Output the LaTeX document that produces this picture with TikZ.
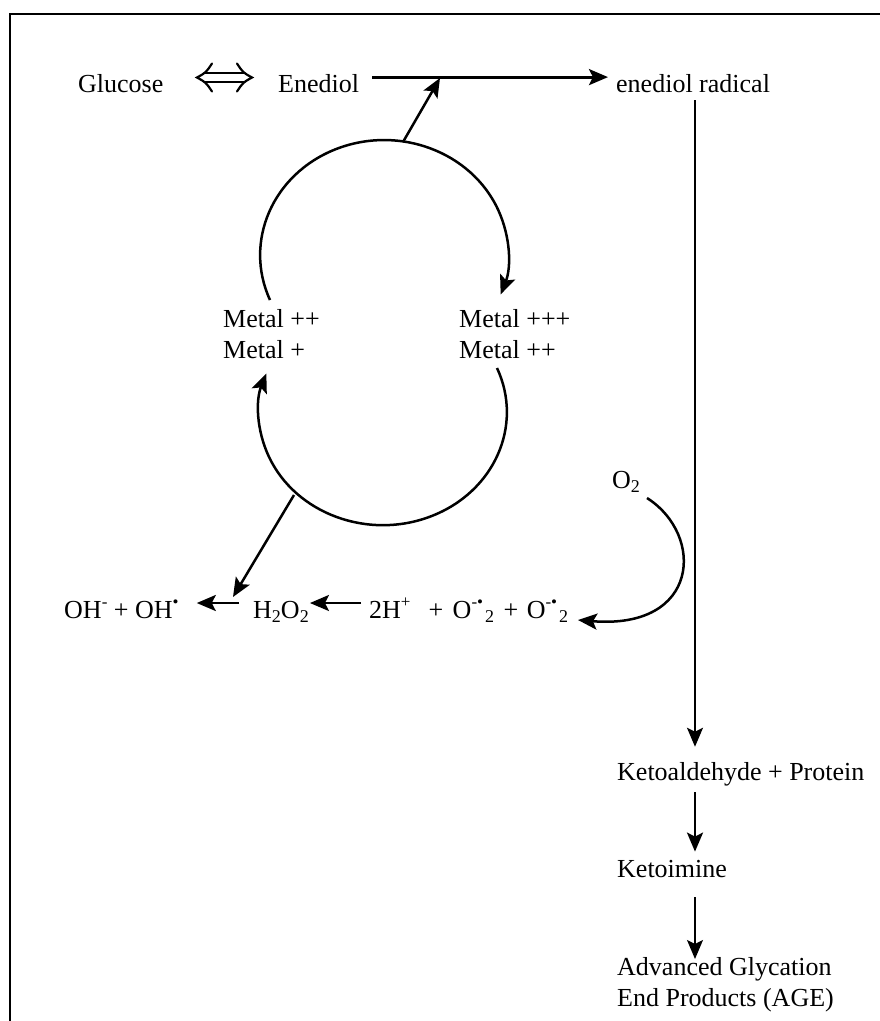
\documentclass[tikz,border=0pt]{standalone}
\usepackage{fontspec}
\setmainfont{Liberation Serif}
\usetikzlibrary{arrows.meta,calc}
\newcommand\mysup[1]{\raisebox{0.42em}{\fontsize{17}{17}\selectfont #1}}
\newcommand\mysub[1]{\raisebox{-0.18em}{\fontsize{18}{18}\selectfont #1}}
\begin{document}
\begin{tikzpicture}[x=1pt,y=-1pt,
  lbl/.style={anchor=base west, inner sep=0pt, font=\fontsize{26}{31.5}\selectfont},
  mlbl/.style={anchor=north west, inner sep=0pt, align=left, font=\fontsize{26}{31.5}\selectfont},
  tip/.style={-{Stealth[length=19pt,width=16pt,inset=4pt]}},
  arr/.style={tip, line width=2.5pt},
  dbl/.style={line width=2.2pt},
  frame/.style={line width=2.2pt}
  ]
\useasboundingbox (0,0) rectangle (880,1021);
\fill[white] (0,0) rectangle (880,1021);
\draw[frame] (10,1040) -- (10,14) -- (900,14);

% nodes
\node[lbl] (glucose) at (78,92) {Glucose};
\node[lbl] (enediol) at (278,92) {Enediol};
\node[lbl] (radical) at (616,92) {enediol radical};
\node[mlbl] (metalL) at (223,309) {Metal ++\\Metal +};
\node[mlbl] (metalR) at (459,309) {Metal +++\\Metal ++};
\node[lbl] (o2) at (612,488) {O\mysub{2}};
\node[lbl] (ohs) at (64,618) {OH\mysup{-} + OH\mysup{•}};
\node[lbl] (h2o2) at (253,618) {H\mysub{2}O\mysub{2}};
\node[lbl] (superox) at (369,618) {2H\mysup{+}\hspace{18pt}+\hspace{3pt} O\mysup{-•}\hspace{2pt}\mysub{2}\hspace{3pt} + \hspace{2pt}O\mysup{-•}\hspace{2pt}\mysub{2}};
\node[lbl] (keto) at (617,780) {Ketoaldehyde + Protein};
\node[lbl] (imine) at (617,877) {Ketoimine};
\node[mlbl] (age) at (617,957) {Advanced Glycation\\End Products (AGE)};

% helper coordinates
\coordinate (vx) at (695,0);
\coordinate (junc) at (440,78);
\coordinate (rowy) at (0,603);
\coordinate (tl) at (270,300);
\coordinate (br) at (497,368);
\coordinate (topout) at (403,142);
\coordinate (botout) at (294,495);
\coordinate (o2s) at (647,498);
\coordinate (o2e) at (578,620);
\coordinate (dblL) at (197,77.5);
\coordinate (dblR) at (252,77.5);

% connectors
% Glucose <=> Enediol
\draw[dbl] ($(dblL)+(8,-4.5)$) -- ($(dblR)+(-8,-4.5)$);
\draw[dbl] ($(dblL)+(8,4.5)$) -- ($(dblR)+(-8,4.5)$);
\draw[dbl, line cap=round] ($(dblL)+(15,-14)$) .. controls ($(dblL)+(9,-5)$) .. (dblL) .. controls ($(dblL)+(9,5)$) .. ($(dblL)+(15,14)$);
\draw[dbl, line cap=round] ($(dblR)+(-15,-14)$) .. controls ($(dblR)+(-9,-5)$) .. (dblR) .. controls ($(dblR)+(-9,5)$) .. ($(dblR)+(-15,14)$);
% Enediol -> radical
\draw[tip, line width=3pt] ([xshift=13pt,yshift=6pt]enediol.east) -- ([xshift=-8pt,yshift=6pt]radical.west);
\draw[arr] (topout) -- (junc);
\draw[arr] (tl) arc[start angle=157, end angle=380, x radius=124, y radius=115];
\draw[arr] (br) arc[start angle=-23, end angle=200, x radius=124, y radius=113];
\draw[arr] (botout) -- (233,597);
\draw[arr] ($(h2o2.west |- rowy)+(-14,0)$) -- ($(ohs.east |- rowy)+(18,0)$);
\draw[arr] ($(superox.west |- rowy)+(-8,0)$) -- ($(h2o2.east |- rowy)+(1,0)$);
\draw[arr] (o2s) .. controls (705,535) and (700,630) .. (o2e);
\draw[tip, line width=2pt, shorten <=8pt, shorten >=15pt] (radical.south -| vx) -- (keto.north -| vx);
\draw[arr, shorten <=6.5pt, shorten >=8pt] (keto.south -| vx) -- (imine.north -| vx);
\draw[tip, line width=1.2pt, shorten <=20pt, shorten >=-2pt] (imine.south -| vx) -- (age.north -| vx);
\end{tikzpicture}
\end{document}
